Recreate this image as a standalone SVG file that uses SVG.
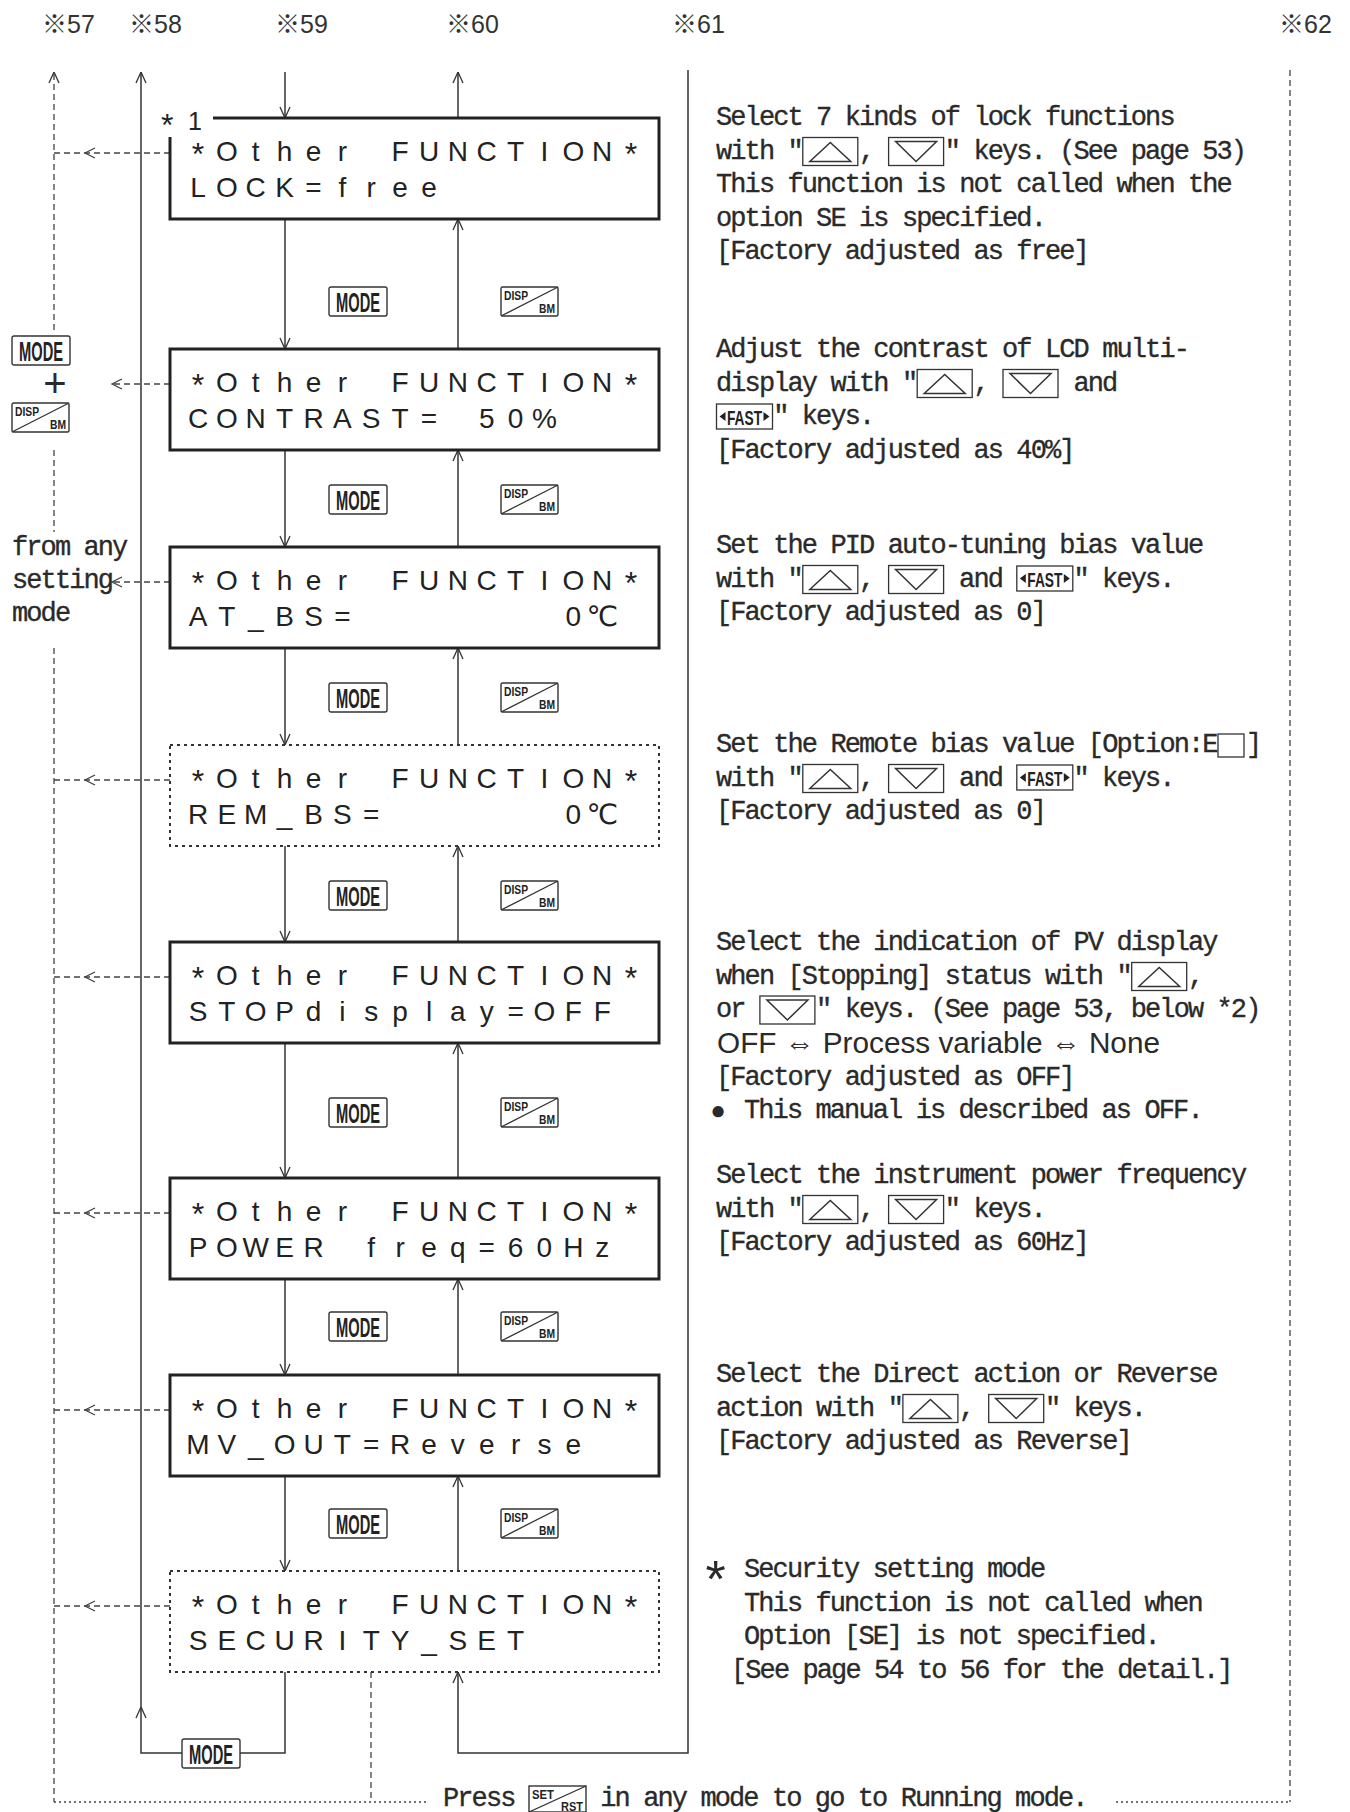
<svg xmlns="http://www.w3.org/2000/svg" width="1350" height="1812" viewBox="0 0 1350 1812">
<style>
.lcd{font-family:"Liberation Sans",Arial,"DejaVu Sans",sans-serif;font-size:28px;fill:#222;text-anchor:middle}
.ast{font-size:32px}
.desc{font-family:"Liberation Mono","Courier New",monospace;font-size:27px;letter-spacing:-1.9px;fill:#2a2a2a;stroke:#2a2a2a;stroke-width:0.35px}
.sans{font-family:"Liberation Sans",Arial,"DejaVu Sans",sans-serif;fill:#2a2a2a}
.lbl{font-family:"Liberation Sans","Noto Sans CJK JP",sans-serif;font-size:25px;fill:#333}
.box{fill:none;stroke:#222;stroke-width:3}
.dbox{fill:none;stroke:#333;stroke-width:2;stroke-dasharray:3 4}
.ln{fill:none;stroke:#333;stroke-width:1.5}
.dash{fill:none;stroke:#444;stroke-width:1.3;stroke-dasharray:6 4}
.dot{fill:none;stroke:#444;stroke-width:1.5;stroke-dasharray:2 3}
.key{fill:#fff;stroke:#333;stroke-width:1.4}
.kb{fill:none;stroke:#333;stroke-width:1.3}
.tri{fill:none;stroke:#333;stroke-width:1.5}
.kt{font-family:"Liberation Sans",Arial,sans-serif;font-size:27px;font-weight:bold;fill:#222;text-anchor:middle}
.ks{font-family:"Liberation Sans",Arial,sans-serif;font-size:13px;font-weight:bold;fill:#222}
.chev{fill:none;stroke:#444;stroke-width:1.3}
</style>
<defs>
<marker id="ah" viewBox="0 0 12 12" refX="12" refY="6" markerWidth="12" markerHeight="12" markerUnits="userSpaceOnUse" orient="auto"><path d="M1,1 L12,6 L1,11" fill="none" stroke="#333" stroke-width="1.3"/></marker>
<g id="modekey"><rect class="key" x="0" y="0" width="58" height="29" rx="2"/><text class="kt" x="29" y="25" textLength="44" lengthAdjust="spacingAndGlyphs">MODE</text></g>
<g id="dispkey"><rect class="key" x="0" y="0" width="57" height="29" rx="1.5"/><path d="M0,29 L57,0" class="kb"/><text class="ks" x="3" y="13" textLength="24" lengthAdjust="spacingAndGlyphs">DISP</text><text class="ks" x="54" y="26" text-anchor="end" textLength="16" lengthAdjust="spacingAndGlyphs">BM</text></g>
<g id="upk"><rect class="kb" x="0" y="0" width="55" height="28"/><path class="tri" d="M7,24 L27.5,5 L48,24 Z"/></g>
<g id="dnk"><rect class="kb" x="0" y="0" width="55" height="28"/><path class="tri" d="M7,4 L48,4 L27.5,24 Z"/></g>
<g id="fastk"><rect class="kb" x="0" y="0" width="56" height="25"/><path d="M3,12.5 L9,8 L9,17 Z M53,12.5 L47,8 L47,17 Z" fill="#222"/><text class="ks" x="28" y="20.5" text-anchor="middle" textLength="35" lengthAdjust="spacingAndGlyphs" style="font-size:21px">FAST</text></g>
</defs>
<rect width="1350" height="1812" fill="#fff"/>

<g id="top-labels">
<text class="lbl" x="42" y="33">※57</text>
<text class="lbl" x="129" y="33">※58</text>
<text class="lbl" x="275" y="33">※59</text>
<text class="lbl" x="446" y="33">※60</text>
<text class="lbl" x="672" y="33">※61</text>
<text class="lbl" x="1279" y="33">※62</text>
</g>

<g id="connectors">
<path class="ln" d="M285,72 V118" marker-end="url(#ah)"/>
<path class="ln" d="M458,118 V72" marker-end="url(#ah)"/>
<path class="ln" d="M285,219 V349" marker-end="url(#ah)"/>
<path class="ln" d="M458,349 V219" marker-end="url(#ah)"/>
<path class="ln" d="M285,450 V547" marker-end="url(#ah)"/>
<path class="ln" d="M458,547 V450" marker-end="url(#ah)"/>
<path class="ln" d="M285,648 V745" marker-end="url(#ah)"/>
<path class="ln" d="M458,745 V648" marker-end="url(#ah)"/>
<path class="ln" d="M285,846 V942" marker-end="url(#ah)"/>
<path class="ln" d="M458,942 V846" marker-end="url(#ah)"/>
<path class="ln" d="M285,1043 V1178" marker-end="url(#ah)"/>
<path class="ln" d="M458,1178 V1043" marker-end="url(#ah)"/>
<path class="ln" d="M285,1279 V1375" marker-end="url(#ah)"/>
<path class="ln" d="M458,1375 V1279" marker-end="url(#ah)"/>
<path class="ln" d="M285,1476 V1571" marker-end="url(#ah)"/>
<path class="ln" d="M458,1571 V1476" marker-end="url(#ah)"/>
<path class="ln" d="M285,1672 V1753 H141 V1707" marker-end="url(#ah)"/>
<path class="ln" d="M141,1707 V72" marker-end="url(#ah)"/>
<path class="ln" d="M688,70 V1753 H458 V1672" marker-end="url(#ah)"/>
<path class="dash" d="M54,330 V72" marker-end="url(#ah)"/>
<path class="dash" d="M54,450 V532"/>
<path class="dash" d="M54,648 V1802"/>
<path class="dash" d="M1290,70 V1802"/>
<path class="dash" d="M371,1672 V1802"/>
<path class="dot" d="M54,1802 H428 M1116,1802 H1290"/>
<path class="dash" d="M170,153 H54"/><path class="chev" d="M95,148 L85,153 L95,158"/>
<path class="dash" d="M170,384 H112"/><path class="chev" d="M122,379 L112,384 L122,389"/>
<path class="dash" d="M170,582 H112"/><path class="chev" d="M122,577 L112,582 L122,587"/>
<path class="dash" d="M170,780 H54"/><path class="chev" d="M95,775 L85,780 L95,785"/>
<path class="dash" d="M170,977 H54"/><path class="chev" d="M95,972 L85,977 L95,982"/>
<path class="dash" d="M170,1213 H54"/><path class="chev" d="M95,1208 L85,1213 L95,1218"/>
<path class="dash" d="M170,1410 H54"/><path class="chev" d="M95,1405 L85,1410 L95,1415"/>
<path class="dash" d="M170,1606 H54"/><path class="chev" d="M95,1601 L85,1606 L95,1611"/>
</g>

<g id="keys">
<use href="#modekey" x="329" y="287"/><use href="#dispkey" x="501" y="287"/>
<use href="#modekey" x="329" y="485"/><use href="#dispkey" x="501" y="485"/>
<use href="#modekey" x="329" y="683"/><use href="#dispkey" x="501" y="683"/>
<use href="#modekey" x="329" y="881"/><use href="#dispkey" x="501" y="881"/>
<use href="#modekey" x="329" y="1098"/><use href="#dispkey" x="501" y="1098"/>
<use href="#modekey" x="329" y="1312"/><use href="#dispkey" x="501" y="1312"/>
<use href="#modekey" x="329" y="1509"/><use href="#dispkey" x="501" y="1509"/>
<use href="#modekey" x="182" y="1739"/>
</g>

<g id="node-lock">
<path class="box" d="M213,118 H659 V219 H170 V137"/>
<text class="lcd" xml:space="preserve" y="130"><tspan x="171" y="136" style="font-size:32px">*</tspan> <tspan x="195" y="130" style="font-size:25px">1</tspan></text>
<text class="lcd" y="161"><tspan class="ast" x="198" y="164.5">*</tspan><tspan x="226.9 255.7 284.6 313.5 342.4 371.2 400.1 429 457.8 486.7 515.6 544.4 573.3 602.2" y="161">Other FUNCTION</tspan><tspan class="ast" x="631" y="164.5">*</tspan></text>
<text class="lcd" x="198 226.9 255.7 284.6 313.5 342.4 371.2 400.1 429" y="197">LOCK=free</text>
</g>

<g id="node-contrast">
<rect class="box" x="170" y="349" width="489" height="101"/>
<text class="lcd" y="392"><tspan class="ast" x="198" y="395.5">*</tspan><tspan x="226.9 255.7 284.6 313.5 342.4 371.2 400.1 429 457.8 486.7 515.6 544.4 573.3 602.2" y="392">Other FUNCTION</tspan><tspan class="ast" x="631" y="395.5">*</tspan></text>
<text class="lcd" x="198 226.9 255.7 284.6 313.5 342.4 371.2 400.1 429 457.8 486.7 515.6 544.4" y="428">CONTRAST= 50%</text>
</g>

<g id="node-atbs">
<rect class="box" x="170" y="547" width="489" height="101"/>
<text class="lcd" y="590"><tspan class="ast" x="198" y="593.5">*</tspan><tspan x="226.9 255.7 284.6 313.5 342.4 371.2 400.1 429 457.8 486.7 515.6 544.4 573.3 602.2" y="590">Other FUNCTION</tspan><tspan class="ast" x="631" y="593.5">*</tspan></text>
<text class="lcd" xml:space="preserve" x="198 226.9 255.7 284.6 313.5 342.4 371.2 400.1 429 457.8 486.7 515.6 544.4 573.3 602.2" y="626">AT_BS=       0℃</text>
</g>

<g id="node-rembs">
<rect class="dbox" x="170" y="745" width="489" height="101"/>
<text class="lcd" y="788"><tspan class="ast" x="198" y="791.5">*</tspan><tspan x="226.9 255.7 284.6 313.5 342.4 371.2 400.1 429 457.8 486.7 515.6 544.4 573.3 602.2" y="788">Other FUNCTION</tspan><tspan class="ast" x="631" y="791.5">*</tspan></text>
<text class="lcd" xml:space="preserve" x="198 226.9 255.7 284.6 313.5 342.4 371.2 400.1 429 457.8 486.7 515.6 544.4 573.3 602.2" y="824">REM_BS=      0℃</text>
</g>

<g id="node-stop">
<rect class="box" x="170" y="942" width="489" height="101"/>
<text class="lcd" y="985"><tspan class="ast" x="198" y="988.5">*</tspan><tspan x="226.9 255.7 284.6 313.5 342.4 371.2 400.1 429 457.8 486.7 515.6 544.4 573.3 602.2" y="985">Other FUNCTION</tspan><tspan class="ast" x="631" y="988.5">*</tspan></text>
<text class="lcd" x="198 226.9 255.7 284.6 313.5 342.4 371.2 400.1 429 457.8 486.7 515.6 544.4 573.3 602.2" y="1021">STOPdisplay=OFF</text>
</g>

<g id="node-power">
<rect class="box" x="170" y="1178" width="489" height="101"/>
<text class="lcd" y="1221"><tspan class="ast" x="198" y="1224.5">*</tspan><tspan x="226.9 255.7 284.6 313.5 342.4 371.2 400.1 429 457.8 486.7 515.6 544.4 573.3 602.2" y="1221">Other FUNCTION</tspan><tspan class="ast" x="631" y="1224.5">*</tspan></text>
<text class="lcd" x="198 226.9 255.7 284.6 313.5 342.4 371.2 400.1 429 457.8 486.7 515.6 544.4 573.3 602.2" y="1257">POWER freq=60Hz</text>
</g>

<g id="node-mvout">
<rect class="box" x="170" y="1375" width="489" height="101"/>
<text class="lcd" y="1418"><tspan class="ast" x="198" y="1421.5">*</tspan><tspan x="226.9 255.7 284.6 313.5 342.4 371.2 400.1 429 457.8 486.7 515.6 544.4 573.3 602.2" y="1418">Other FUNCTION</tspan><tspan class="ast" x="631" y="1421.5">*</tspan></text>
<text class="lcd" x="198 226.9 255.7 284.6 313.5 342.4 371.2 400.1 429 457.8 486.7 515.6 544.4 573.3" y="1454">MV_OUT=Reverse</text>
</g>

<g id="node-security">
<rect class="dbox" x="170" y="1571" width="489" height="101"/>
<text class="lcd" y="1614"><tspan class="ast" x="198" y="1617.5">*</tspan><tspan x="226.9 255.7 284.6 313.5 342.4 371.2 400.1 429 457.8 486.7 515.6 544.4 573.3 602.2" y="1614">Other FUNCTION</tspan><tspan class="ast" x="631" y="1617.5">*</tspan></text>
<text class="lcd" x="198 226.9 255.7 284.6 313.5 342.4 371.2 400.1 429 457.8 486.7 515.6" y="1650">SECURITY_SET</text>
</g>

<g id="left-note">
<use href="#modekey" x="12" y="336"/>
<text class="sans" x="55" y="397" text-anchor="middle" style="font-size:40px">+</text>
<use href="#dispkey" x="12" y="403"/>
<text class="desc" x="12" y="555">from any</text>
<text class="desc" x="12" y="588">setting</text>
<text class="desc" x="12" y="621">mode</text>
</g>

<g id="desc-lock">
<text class="desc" x="716" y="125">Select 7 kinds of lock functions</text>
<text class="desc" x="716" y="158.5">with "<tspan x="859">,</tspan><tspan x="944.8">" keys. (See page 53)</tspan></text>
<use href="#upk" x="802.8" y="137.5"/><use href="#dnk" x="888.6" y="137.5"/>
<text class="desc" x="716" y="192">This function is not called when the</text>
<text class="desc" x="716" y="225.5">option SE is specified.</text>
<text class="desc" x="716" y="259">[Factory adjusted as free]</text>
</g>

<g id="desc-contrast">
<text class="desc" x="716" y="357">Adjust the contrast of LCD multi-</text>
<text class="desc" x="716" y="390.5">display with "<tspan x="973.4">,</tspan><tspan x="1073.5">and</tspan></text>
<use href="#upk" x="917.2" y="369.5"/><use href="#dnk" x="1003" y="369.5"/>
<use href="#fastk" x="716.5" y="404"/>
<text class="desc" x="773.2" y="424">" keys.</text>
<text class="desc" x="716" y="457.5">[Factory adjusted as 40%]</text>
</g>

<g id="desc-atbs">
<text class="desc" x="716" y="553">Set the PID auto-tuning bias value</text>
<text class="desc" x="716" y="586.5">with "<tspan x="859">,</tspan><tspan x="959.1">and</tspan><tspan x="1073.5">" keys.</tspan></text>
<use href="#upk" x="802.8" y="565.5"/><use href="#dnk" x="888.6" y="565.5"/><use href="#fastk" x="1016.8" y="566"/>
<text class="desc" x="716" y="620">[Factory adjusted as 0]</text>
</g>

<g id="desc-rembs">
<text class="desc" x="716" y="752">Set the Remote bias value [Option:E<tspan x="1246">]</tspan></text>
<rect class="kb" x="1218" y="734" width="26" height="23"/>
<text class="desc" x="716" y="785.5">with "<tspan x="859">,</tspan><tspan x="959.1">and</tspan><tspan x="1073.5">" keys.</tspan></text>
<use href="#upk" x="802.8" y="764.5"/><use href="#dnk" x="888.6" y="764.5"/><use href="#fastk" x="1016.8" y="765"/>
<text class="desc" x="716" y="819">[Factory adjusted as 0]</text>
</g>

<g id="desc-stop">
<text class="desc" x="716" y="950">Select the indication of PV display</text>
<text class="desc" x="716" y="983.5">when [Stopping] status with "<tspan x="1187.9">,</tspan></text>
<use href="#upk" x="1131.7" y="962.5"/>
<text class="desc" x="716" y="1017">or<tspan x="816.1">" keys. (See page 53, below *2)</tspan></text>
<use href="#dnk" x="759.9" y="996"/>
<text class="sans" x="717" y="1053" textLength="443" lengthAdjust="spacingAndGlyphs" style="font-size:30px">OFF ⇔ Process variable ⇔ None</text>
<text class="desc" x="716" y="1085">[Factory adjusted as OFF]</text>
<text class="sans" x="718" y="1119" text-anchor="middle" style="font-size:26px">●</text>
<text class="desc" x="744" y="1118">This manual is described as OFF.</text>
</g>

<g id="desc-power">
<text class="desc" x="716" y="1183">Select the instrument power frequency</text>
<text class="desc" x="716" y="1216.5">with "<tspan x="859">,</tspan><tspan x="944.8">" keys.</tspan></text>
<use href="#upk" x="802.8" y="1195.5"/><use href="#dnk" x="888.6" y="1195.5"/>
<text class="desc" x="716" y="1250">[Factory adjusted as 60Hz]</text>
</g>

<g id="desc-mvout">
<text class="desc" x="716" y="1382">Select the Direct action or Reverse</text>
<text class="desc" x="716" y="1415.5">action with "<tspan x="959.1">,</tspan><tspan x="1044.9">" keys.</tspan></text>
<use href="#upk" x="902.9" y="1394.5"/><use href="#dnk" x="988.7" y="1394.5"/>
<text class="desc" x="716" y="1449">[Factory adjusted as Reverse]</text>
</g>

<g id="desc-security">
<text class="sans" x="715.5" y="1597" text-anchor="middle" style="font-size:52px">*</text>
<text class="desc" x="744" y="1577">Security setting mode</text>
<text class="desc" x="744" y="1610.5">This function is not called when</text>
<text class="desc" x="744" y="1644">Option [SE] is not specified.</text>
<text class="desc" x="731" y="1678">[See page 54 to 56 for the detail.]</text>
</g>

<g id="footer">
<text class="desc" x="443" y="1806">Press</text>
<rect class="key" x="529" y="1786" width="57" height="26"/>
<path class="kb" d="M529,1812 L586,1786"/>
<text class="ks" x="532" y="1799" textLength="22" lengthAdjust="spacingAndGlyphs">SET</text>
<text class="ks" x="583" y="1811" text-anchor="end" textLength="22" lengthAdjust="spacingAndGlyphs">RST</text>
<text class="desc" x="600.3" y="1806">in any mode to go to Running mode.</text>
</g>
</svg>
